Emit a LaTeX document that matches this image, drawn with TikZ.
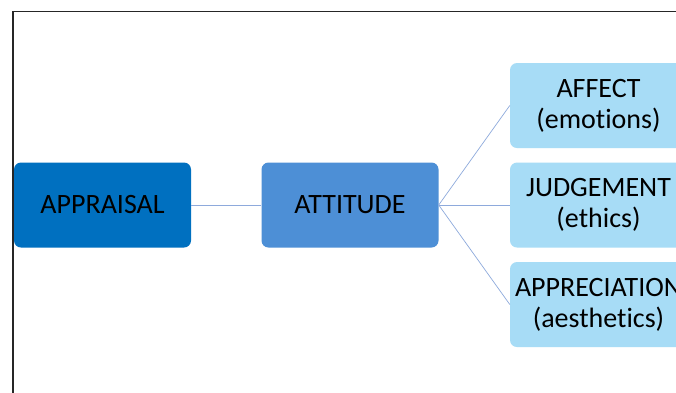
\documentclass[tikz,border=0pt]{standalone}
\usepackage{fontspec}
\setmainfont[Ligatures=NoCommon]{Carlito}
\definecolor{dark}{HTML}{0070C0}
\definecolor{mid}{HTML}{4D8FD6}
\definecolor{light}{HTML}{A7DCF6}
\definecolor{link}{HTML}{8EAADC}
\begin{document}
\begin{tikzpicture}[x=1pt,y=1pt,
  box/.style={rounded corners=7pt, minimum width=177pt, minimum height=85pt, inner sep=0pt,
    align=center, font=\fontsize{28}{31}\selectfont, text=black},
  conn/.style={draw=link, line width=0.7pt}]
\clip (0,0) rectangle (676,-392);
\fill[white] (0,0) rectangle (676,-392);
\draw[line width=1.2pt, draw=black!85] (13,-420) -- (13,-11.5) -- (700,-11.5);
\node[box, fill=dark] (appr) at (102.5,-205) {APPRAISAL};
\node[box, fill=mid] (att) at (350,-205) {ATTITUDE};
\node[box, fill=light] (aff) at (598.5,-105.5) {AFFECT\\(emotions)};
\node[box, fill=light] (jud) at (598.5,-205) {JUDGEMENT\\(ethics)};
\node[box, fill=light] (apc) at (598.5,-304.5) {APPRECIATION\\(aesthetics)};
\draw[conn] (appr.east) -- (att.west);
\draw[conn] (att.east) -- (aff.west);
\draw[conn] (att.east) -- (jud.west);
\draw[conn] (att.east) -- (apc.west);
\end{tikzpicture}
\end{document}
